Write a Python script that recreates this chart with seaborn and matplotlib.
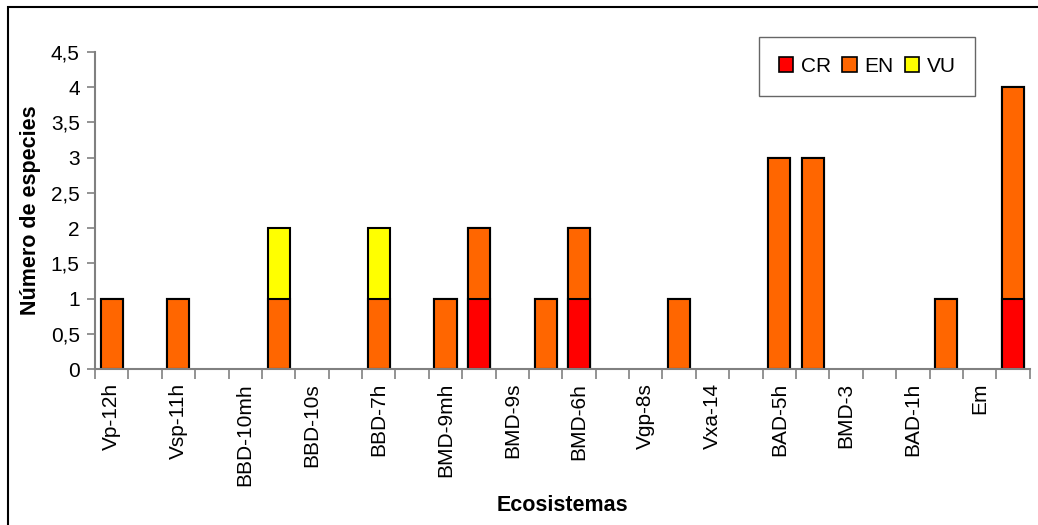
import numpy as np
import pandas as pd
import seaborn as sns
import matplotlib.pyplot as plt
from matplotlib.patches import Patch, Rectangle
from matplotlib.ticker import FuncFormatter

# 28 category slots on the axis; Excel only printed every second label
slot_labels = ["Vp-12h", "Vsp-11h", "BBD-10mh", "BBD-10s", "BBD-7h", "BMD-9mh", "BMD-9s",
               "BMD-6h", "Vgp-8s", "Vxa-14", "BAD-5h", "BMD-3", "BAD-1h", "Em"]
slots = [f"s{i}" for i in range(28)]

cr = [0, 0, 0, 0, 0, 0, 0, 0, 0, 0, 0, 1, 0, 0, 1, 0, 0, 0, 0, 0, 0, 0, 0, 0, 0, 0, 0, 1]
en = [1, 0, 1, 0, 0, 1, 0, 0, 1, 0, 1, 1, 0, 1, 1, 0, 0, 1, 0, 0, 3, 3, 0, 0, 0, 1, 0, 3]
vu = [0, 0, 0, 0, 0, 1, 0, 0, 1, 0, 0, 0, 0, 0, 0, 0, 0, 0, 0, 0, 0, 0, 0, 0, 0, 0, 0, 0]

colors = {"CR": "#FF0000", "EN": "#FF6600", "VU": "#FFFF00"}

df = pd.DataFrame({"slot": slots, "CR": cr, "EN": en, "VU": vu})
df["top_vu"] = df["CR"] + df["EN"] + df["VU"]
df["top_en"] = df["CR"] + df["EN"]
df["top_cr"] = df["CR"]
df = df.replace(0, np.nan)

sns.set_style("white")
plt.rcParams["font.family"] = ["Liberation Sans", "DejaVu Sans"]
plt.rcParams.update({"text.color": "black", "axes.labelcolor": "black",
                     "xtick.color": "black", "ytick.color": "black"})

fig = plt.figure(figsize=(10.38, 5.25), dpi=100)
ax = fig.add_axes([0.0915, 0.297, 0.9005, 0.604])

# stacked look: draw cumulative totals from top segment down
for col, name in [("top_vu", "VU"), ("top_en", "EN"), ("top_cr", "CR")]:
    sns.barplot(data=df, x="slot", y=col, order=slots, color=colors[name],
                saturation=1, width=0.66, edgecolor="black", linewidth=1.5, ax=ax)

ax.set_ylim(0, 4.5)
ax.set_xlim(-0.5, 27.5)
ax.set_yticks(np.arange(0, 4.51, 0.5))
ax.yaxis.set_major_formatter(FuncFormatter(lambda v, p: f"{v:g}".replace(".", ",")))
ax.set_xticks(np.arange(0, 28, 2))
ax.set_xticklabels(slot_labels, rotation=90, fontsize=15)
ax.set_xticks(np.arange(-0.5, 28, 1), minor=True)
ax.tick_params(axis="x", which="major", length=0, pad=10)
ax.tick_params(axis="x", which="minor", length=7, color="#808080", width=1.2, bottom=True)
ax.tick_params(axis="y", length=6, color="#808080", labelcolor="black", width=1.2, left=True,
               labelsize=15, pad=5)

for s in ["top", "right"]:
    ax.spines[s].set_visible(False)
for s in ["left", "bottom"]:
    ax.spines[s].set_color("#808080")
    ax.spines[s].set_linewidth(1.5)

ax.set_xlabel("Ecosistemas", fontsize=15.5, fontweight="bold")
ax.set_ylabel("Número de especies", fontsize=15.5, fontweight="bold")
ax.xaxis.set_label_coords(0.5, -0.429)
ax.yaxis.set_label_coords(-0.0695, 0.5)
ax.xaxis.label.set_verticalalignment("center")
ax.yaxis.label.set_verticalalignment("center")

handles = [Patch(facecolor=colors[k], edgecolor="black", linewidth=1.2, label=k) for k in ["CR", "EN", "VU"]]
leg = ax.legend(handles=handles, ncol=3, loc="upper right", bbox_to_anchor=(0.942, 1.047),
                fontsize=15, frameon=True, fancybox=False, handlelength=0.7, handleheight=0.7,
                handletextpad=0.35, columnspacing=0.55, borderpad=0.95, borderaxespad=0)
leg.get_frame().set_edgecolor("#404040")
leg.get_frame().set_linewidth(1.0)

fig.patches.append(Rectangle((0.0077, -0.05), 1.2, 0.9867 + 0.05, transform=fig.transFigure,
                             fill=False, edgecolor="black", linewidth=1.5))

fig.savefig("out.png", dpi=100)
